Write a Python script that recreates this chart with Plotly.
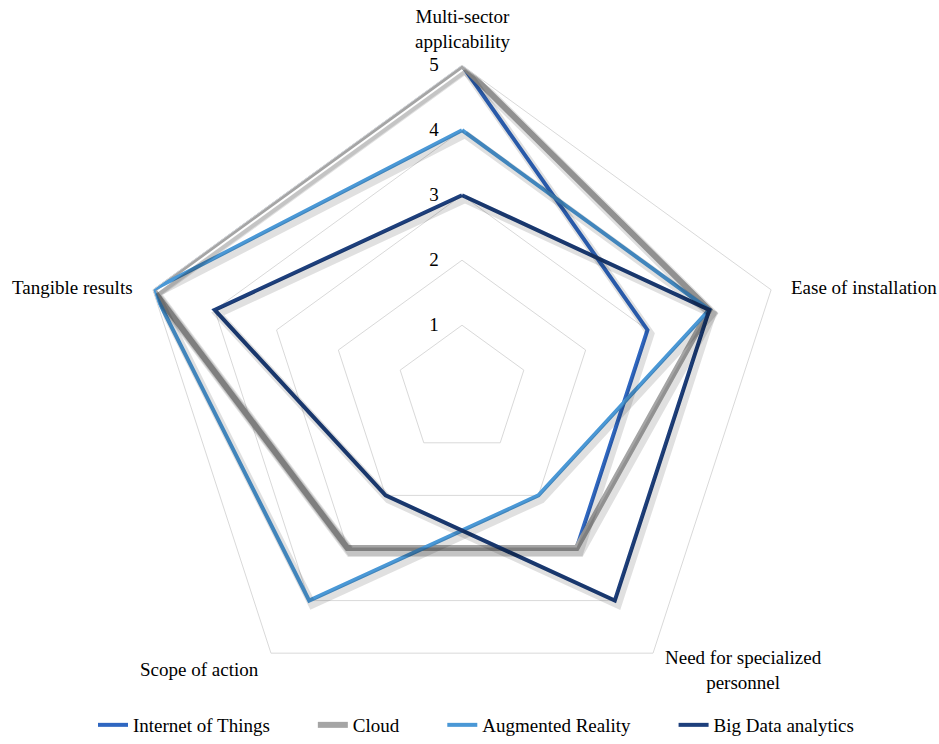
import plotly.graph_objects as go

categories = [
    "Multi-sector applicability",
    "Ease of installation",
    "Need for specialized personnel",
    "Scope of action",
    "Tangible results",
]
iot = [5, 3, 3, 3, 5]
cloud = [5, 4, 3, 3, 5]
augmented_reality = [4, 4, 2, 4, 5]
big_data = [3, 4, 4, 2, 4]
radial_ticks = [1, 2, 3, 4, 5]

series = [
    ("Internet of Things", iot, "#2F67C1", 4),
    ("Cloud", cloud, "#A5A5A5", 6),
    ("Augmented Reality", augmented_reality, "#4A98D6", 4),
    ("Big Data analytics", big_data, "#1D3F7C", 4),
]

W, H = 939, 744
cx, cy, R = 462, 395, 329
FONT = "Liberation Serif"
FS = 19
PAD = "\u00a0" * 8  # extra room between legend entries


def domain(dx=0, dy=0):
    x0 = (cx - R + dx) / W
    x1 = (cx + R + dx) / W
    y0 = 1 - (cy + R + dy) / H
    y1 = 1 - (cy - R + dy) / H
    return dict(x=[x0, x1], y=[y0, y1])


def close(vals):
    return list(vals) + [vals[0]]


fig = go.Figure()

# soft drop shadow under each series, drawn on an offset copy of the polar axes
for name, vals, col, w in series:
    fig.add_trace(go.Scatterpolar(
        r=close(vals), theta=close(categories), mode="lines",
        line=dict(color="rgba(0,0,0,0.12)", width=w + 4),
        subplot="polar2", showlegend=False, hoverinfo="skip",
    ))

for name, vals, col, w in series:
    fig.add_trace(go.Scatterpolar(
        r=close(vals), theta=close(categories), mode="lines", name=name + PAD,
        line=dict(color=col, width=w), subplot="polar",
    ))

# category labels placed around the outer pentagon
label_pos = [
    # x, y (px from top-left), xanchor, yanchor
    (462, 55, "center", "bottom"),
    (789, 291, "left", "middle"),
    (743, 653, "center", "top"),
    (199, 678, "center", "middle"),
    (135, 291, "right", "middle"),
]
label_text = [
    "Multi-sector<br>applicability",
    "Ease of installation",
    "Need for specialized<br>personnel",
    "Scope of action",
    "Tangible results",
]
for txt, (x, y, xa, ya) in zip(label_text, label_pos):
    fig.add_annotation(
        x=x / W, y=1 - y / H, xref="paper", yref="paper",
        text=txt, showarrow=False, xanchor=xa, yanchor=ya, align="center",
        font=dict(family=FONT, size=FS, color="#000000"),
    )

hidden_axis = dict(visible=False, range=[0, 5])
fig.update_layout(
    width=W, height=H,
    margin=dict(l=0, r=0, t=0, b=0),
    paper_bgcolor="white",
    font=dict(family=FONT, size=FS, color="#000000"),
    polar2=dict(
        domain=domain(3, 4),
        gridshape="linear",
        bgcolor="rgba(0,0,0,0)",
        radialaxis=hidden_axis,
        angularaxis=dict(visible=False, direction="clockwise", rotation=90,
                         categoryarray=categories, categoryorder="array"),
    ),
    polar=dict(
        domain=domain(),
        gridshape="linear",
        bgcolor="rgba(0,0,0,0)",
        radialaxis=dict(
            range=[0, 5], tickvals=radial_ticks, angle=90, tickangle=90,
            showline=False, ticks="outside", ticklen=16,
            tickcolor="rgba(0,0,0,0)",
            gridcolor="#D9D9D9", gridwidth=1,
            tickfont=dict(family=FONT, size=FS, color="#000000"),
            side="counterclockwise",
        ),
        angularaxis=dict(
            direction="clockwise", rotation=90,
            categoryarray=categories, categoryorder="array",
            showline=True, linecolor="#D9D9D9", linewidth=1,
            showgrid=False, ticks="", showticklabels=False,
        ),
    ),
    legend=dict(
        orientation="h", x=93 / W, xanchor="left", y=1 - 734 / H,
        yanchor="middle",
        font=dict(family=FONT, size=FS, color="#000000"),
        traceorder="normal",
    ),
)

fig.write_html("out.html")
